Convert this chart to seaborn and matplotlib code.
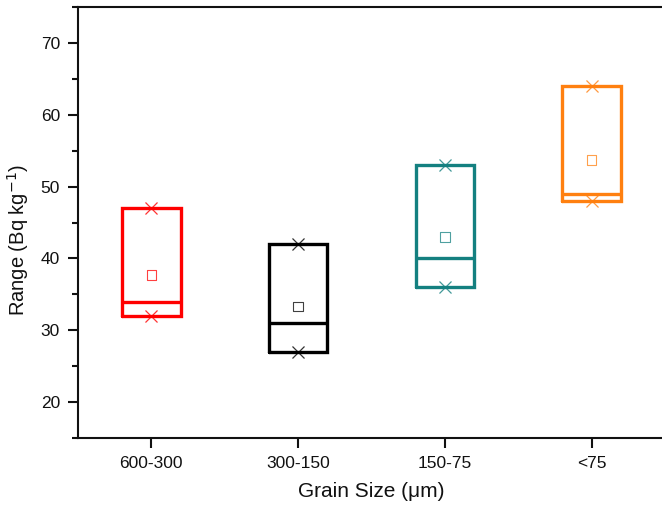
import matplotlib
matplotlib.use("Agg")
import matplotlib.pyplot as plt
import seaborn as sns
import pandas as pd
from matplotlib.ticker import MultipleLocator

categories = ["600-300", "300-150", "150-75", "<75"]
mins = [32, 27, 36, 48]
maxs = [47, 42, 53, 64]
medians = [34, 31, 40, 49]
means = [37.7, 33.3, 43.0, 53.7]
colors = ["#FF0000", "#000000", "#148080", "#FF8010"]

sns.set_style("ticks")
plt.rcParams['font.family'] = ['Liberation Sans', 'DejaVu Sans']

fig = plt.figure(figsize=(6.62, 5.11), dpi=100)
ax = fig.add_axes([78/662, 73/511, 587/662, 431/511])

stats = []
for i, c in enumerate(categories):
    stats.append(dict(label=c, q1=mins[i], q3=maxs[i], med=medians[i],
                      whislo=mins[i], whishi=maxs[i], mean=means[i]))
bp = ax.bxp(stats, positions=range(len(categories)), widths=0.4,
            showfliers=False, showcaps=False, patch_artist=False,
            manage_ticks=False)
for i, col in enumerate(colors):
    bp['boxes'][i].set(color=col, linewidth=2.4, solid_joinstyle='miter')
    bp['medians'][i].set(color=col, linewidth=2.4)
for w in bp['whiskers']:
    w.set_visible(False)

df = pd.DataFrame({"cat": categories, "min": mins, "max": maxs, "mean": means,
                   "pos": range(len(categories))})
for i, col in enumerate(colors):
    sub = df.iloc[[i]]
    sns.scatterplot(data=sub, x="pos", y="min", marker="x", s=75, color=col,
                    linewidth=0.9, alpha=0.8, ax=ax, zorder=5)
    sns.scatterplot(data=sub, x="pos", y="max", marker="x", s=75, color=col,
                    linewidth=0.9, alpha=0.8, ax=ax, zorder=5)
    sns.scatterplot(data=sub, x="pos", y="mean", marker="s", s=45,
                    facecolor="none", edgecolor=col, linewidth=0.8, alpha=0.75,
                    ax=ax, zorder=5)

ax.set_xlim(-0.5, 3.5)
ax.set_ylim(15, 75)
ax.set_xticks(range(len(categories)))
ax.set_xticklabels(categories)
ax.yaxis.set_major_locator(MultipleLocator(10))
ax.yaxis.set_minor_locator(MultipleLocator(5))
ax.set_yticks([20, 30, 40, 50, 60, 70])

for s in ax.spines.values():
    s.set_linewidth(1.5)
    s.set_color("#111111")
ax.tick_params(axis='both', which='major', direction='out', length=7, width=1.5,
               labelsize=12.5, color="#111111", labelcolor="#111111", pad=6)
ax.tick_params(axis='y', which='minor', direction='out', length=4, width=1.5,
               color="#111111")
ax.tick_params(axis='x', which='minor', length=0)

ax.set_xlabel("Grain Size (μm)", fontsize=15, labelpad=8, color="#111111")
ax.set_ylabel("Range (Bq kg$^{-1}$)", fontsize=14.5, color="#111111")
ax.yaxis.set_label_coords(-0.08, 0.46)

fig.savefig("out.png", dpi=100)
